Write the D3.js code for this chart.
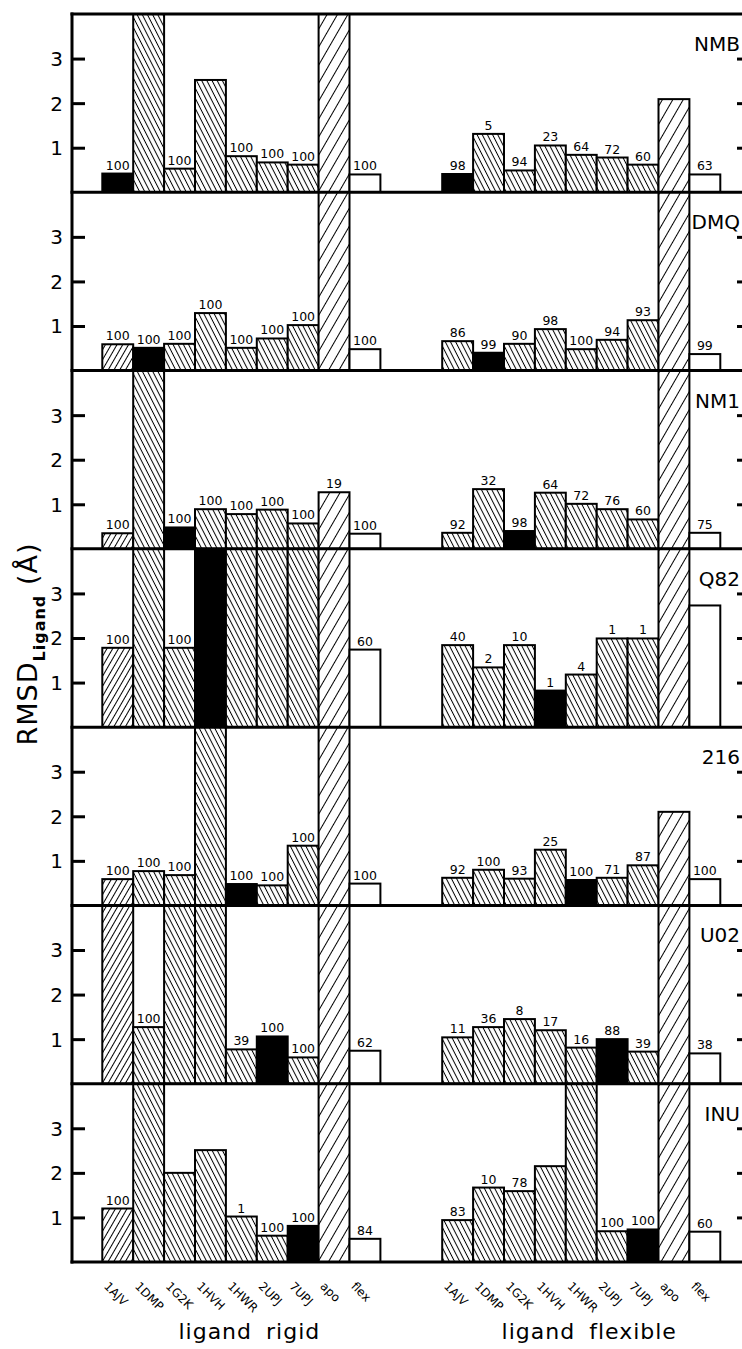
<!DOCTYPE html>
<html>
<head>
<meta charset="utf-8">
<script src="https://cdn.jsdelivr.net/npm/d3@7"></script>
<style>
  html, body { margin: 0; padding: 0; background: #fff; }
  svg { display: block; }
  text { font-family: "DejaVu Sans", sans-serif; fill: #000; }
</style>
</head>
<body>
<div id="chart"></div>
<script>
// ---------------- DATA ----------------
const categories = ["1AJV","1DMP","1G2K","1HVH","1HWR","2UPJ","7UPJ","apo","flex"];
const groups = ["ligand rigid","ligand flexible"];
const ligands = ["NMB","DMQ","NM1","Q82","216","U02","INU"];
const nativeStructures = ["1AJV","1DMP","1G2K","1HVH","1HWR","2UPJ","7UPJ"];
const yTicks = [1,2,3];
const OFF = 5; // off-scale value (bar runs past the top of the panel)

const rigidValues = [
  [0.42, OFF, 0.53, 2.52, 0.81, 0.67, 0.62, OFF, 0.40],
  [0.59, 0.51, 0.60, 1.29, 0.51, 0.72, 1.02, OFF, 0.48],
  [0.35, OFF, 0.48, 0.89, 0.78, 0.88, 0.57, 1.27, 0.34],
  [1.78, OFF, 1.78, OFF, OFF, OFF, OFF, OFF, 1.74],
  [0.59, 0.77, 0.68, OFF, 0.48, 0.45, 1.34, OFF, 0.49],
  [OFF, 1.27, OFF, OFF, 0.77, 1.06, 0.59, OFF, 0.74],
  [1.20, OFF, 2.00, 2.51, 1.02, 0.59, 0.81, OFF, 0.52]
];
const rigidLabels = [
  [100, null, 100, null, 100, 100, 100, null, 100],
  [100, 100, 100, 100, 100, 100, 100, null, 100],
  [100, null, 100, 100, 100, 100, 100, 19, 100],
  [100, null, 100, null, null, null, null, null, 60],
  [100, 100, 100, null, 100, 100, 100, null, 100],
  [null, 100, null, null, 39, 100, 100, null, 62],
  [100, null, null, null, 1, 100, 100, null, 84]
];
const flexibleValues = [
  [0.41, 1.31, 0.49, 1.05, 0.84, 0.78, 0.62, 2.09, 0.40],
  [0.66, 0.40, 0.60, 0.93, 0.48, 0.69, 1.13, OFF, 0.37],
  [0.36, 1.34, 0.40, 1.26, 1.01, 0.89, 0.66, OFF, 0.36],
  [1.84, 1.34, 1.84, 0.82, 1.18, 1.99, 1.99, OFF, 2.73],
  [0.62, 0.80, 0.60, 1.25, 0.57, 0.62, 0.90, 2.10, 0.59],
  [1.04, 1.27, 1.45, 1.20, 0.81, 1.00, 0.72, OFF, 0.68],
  [0.94, 1.67, 1.59, 2.15, OFF, 0.69, 0.73, OFF, 0.68]
];
const flexibleLabels = [
  [98, 5, 94, 23, 64, 72, 60, null, 63],
  [86, 99, 90, 98, 100, 94, 93, null, 99],
  [92, 32, 98, 64, 72, 76, 60, null, 75],
  [40, 2, 10, 1, 4, 1, 1, null, null],
  [92, 100, 93, 25, 100, 71, 87, null, 100],
  [11, 36, 8, 17, 16, 88, 39, null, 38],
  [83, 10, 78, null, null, 100, 100, null, 60]
];

// ---------------- LAYOUT ----------------
const W = 742, H = 1349;
const axisLeft = 72, axisRight = 750;
const plotTop = 14, plotBottom = 1262;
const panelH = (plotBottom - plotTop) / ligands.length;

const svg = d3.select("#chart").append("svg")
  .attr("width", W).attr("height", H);

// patterns
const defs = svg.append("defs");
function hatch(id, angle, spacing, sw) {
  const p = defs.append("pattern")
    .attr("id", id)
    .attr("patternUnits", "userSpaceOnUse")
    .attr("width", spacing).attr("height", 20)
    .attr("patternTransform", `rotate(${angle})`);
  p.append("rect").attr("width", spacing).attr("height", 20).attr("fill", "#fff");
  p.append("line").attr("x1", spacing/2).attr("x2", spacing/2)
    .attr("y1", 0).attr("y2", 20)
    .attr("stroke", "#000").attr("stroke-width", sw);
}
hatch("back", -27, 4.6, 1);
hatch("fwd", 30, 5, 1);
hatch("apo", 30, 9, 1);

const xGroup = d3.scaleBand().domain(groups).range([102.3, 720.3])
  .paddingInner(2/11).paddingOuter(0);
const xCat = d3.scaleBand().domain(categories).range([0, xGroup.bandwidth()]).padding(0);
const y = d3.scaleLinear().domain([0, 4]).range([panelH, 0]);

function fillFor(gi, ci, li) {
  const cat = categories[ci];
  if (cat === nativeStructures[li]) return "#000";
  if (cat === "flex") return "#fff";
  if (cat === "apo") return "url(#apo)";
  if (gi === 0 && ci === 0) return "url(#fwd)";
  return "url(#back)";
}

ligands.forEach((lig, li) => {
  const top = plotTop + li * panelH;
  const g = svg.append("g").attr("transform", `translate(0,${top})`);
  const clipId = "clip" + li;
  defs.append("clipPath").attr("id", clipId)
    .append("rect").attr("x", axisLeft).attr("y", 0)
    .attr("width", axisRight - axisLeft).attr("height", panelH);

  const bars = g.append("g").attr("clip-path", `url(#${clipId})`);
  const groupData = [
    { values: rigidValues[li], labels: rigidLabels[li] },
    { values: flexibleValues[li], labels: flexibleLabels[li] }
  ];
  groupData.forEach((gd, gi) => {
    const gx = xGroup(groups[gi]);
    const data = categories.map((c, ci) => ({ c, ci, v: gd.values[ci], lab: gd.labels[ci] }));
    bars.selectAll(null).data(data).enter().append("rect")
      .attr("x", d => gx + xCat(d.c))
      .attr("y", d => y(d.v))
      .attr("width", xCat.bandwidth())
      .attr("height", d => y(0) - y(d.v))
      .attr("fill", d => fillFor(gi, d.ci, li))
      .attr("stroke", "#000").attr("stroke-width", 2);
    g.selectAll(null).data(data.filter(d => d.lab !== null && d.v <= 4)).enter().append("text")
      .attr("x", d => gx + xCat(d.c) + xCat.bandwidth() / 2)
      .attr("y", d => y(d.v) - 4)
      .attr("text-anchor", "middle")
      .attr("font-size", 12.5)
      .text(d => d.lab);
  });

  // left axis ticks & labels
  const yAxisL = d3.axisRight(y).tickValues(yTicks).tickSize(13).tickFormat("");
  const ga = g.append("g").attr("transform", `translate(${axisLeft},0)`).call(yAxisL);
  ga.select(".domain").remove();
  ga.selectAll("line").attr("stroke", "#000").attr("stroke-width", 3);
  g.selectAll(null).data(yTicks).enter().append("text")
    .attr("x", 63).attr("y", d => y(d) + 7.5)
    .attr("text-anchor", "end").attr("font-size", 20)
    .text(d => d);

  // right axis ticks
  const yAxisR = d3.axisLeft(y).tickValues(yTicks).tickSize(13).tickFormat("");
  const gr = g.append("g").attr("transform", `translate(${axisRight},0)`).call(yAxisR);
  gr.select(".domain").remove();
  gr.selectAll("line").attr("stroke", "#000").attr("stroke-width", 3);

  // panel name
  g.append("text").attr("x", 740).attr("y", 37)
    .attr("text-anchor", "end").attr("font-size", 20)
    .text(lig);
});

// frame lines
const frame = svg.append("g");
d3.range(ligands.length + 1).forEach(i => {
  frame.append("line")
    .attr("x1", axisLeft - 1.5).attr("x2", axisRight)
    .attr("y1", plotTop + i * panelH).attr("y2", plotTop + i * panelH)
    .attr("stroke", "#000").attr("stroke-width", 3);
});
frame.append("line").attr("x1", axisLeft).attr("x2", axisLeft)
  .attr("y1", plotTop - 1.5).attr("y2", plotBottom + 1.5)
  .attr("stroke", "#000").attr("stroke-width", 3);
frame.append("line").attr("x1", axisRight).attr("x2", axisRight)
  .attr("y1", plotTop - 1.5).attr("y2", plotBottom + 1.5)
  .attr("stroke", "#000").attr("stroke-width", 3);

// category labels
groups.forEach(gr => {
  const gx = xGroup(gr);
  svg.selectAll(null).data(categories).enter().append("text")
    .attr("transform", c => `translate(${gx + xCat(c) + 1},${plotBottom + 25}) rotate(45)`)
    .attr("font-size", 12)
    .text(c => c);
  svg.append("text")
    .attr("x", gx + xGroup.bandwidth() / 2 + 8)
    .attr("y", plotBottom + 77)
    .attr("text-anchor", "middle")
    .attr("font-size", 22)
    .attr("letter-spacing", 1)
    .attr("word-spacing", 6)
    .text(gr);
});

// y axis title
const yt = svg.append("text")
  .attr("transform", `translate(37,${(plotTop + plotBottom) / 2 + 6}) rotate(-90)`)
  .attr("text-anchor", "middle")
  .attr("font-size", 27)
  .attr("letter-spacing", 1);
yt.append("tspan").text("RMSD");
yt.append("tspan").attr("font-size", 16).attr("font-weight", "bold").attr("dy", 8).text("Ligand");
yt.append("tspan").attr("dy", -8).text(" (Å)");
</script>
</body>
</html>
